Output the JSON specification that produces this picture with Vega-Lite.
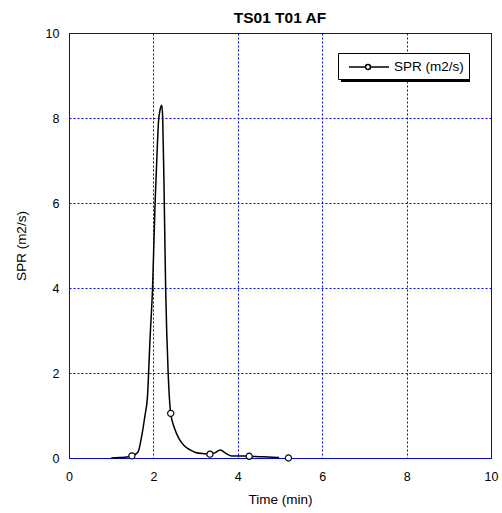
{
  "$schema": "https://vega.github.io/schema/vega-lite/v6.json",
  "width": 422,
  "height": 425,
  "autosize": {"type": "none"},
  "padding": {"left": 69, "top": 33, "right": 11, "bottom": 55},
  "background": "white",
  "title": {"text": "TS01 T01 AF", "fontSize": 15.5, "fontWeight": "bold", "font": "Liberation Sans", "color": "black", "anchor": "middle", "offset": 1},
  "config": {
    "view": {"stroke": "#0000ff", "strokeWidth": 1},
    "axis": {
      "domain": false,
      "ticks": false,
      "grid": true,
      "gridColor": "#0000ff",
      "gridDash": [2, 2],
      "gridWidth": 1,
      "gridOpacity": 1,
      "labelFlush": false,
      "labelFont": "Liberation Sans",
      "labelFontSize": 12.5,
      "labelColor": "black",
      "titleFont": "Liberation Sans",
      "titleFontSize": 13.5,
      "titleFontWeight": "normal",
      "titleColor": "black"
    },
    "legend": {
      "orient": "none",
      "labelFont": "Liberation Sans",
      "labelFontSize": 13.5,
      "labelColor": "black"
    }
  },
  "datasets": {
    "line": [
      {"t": 1.0, "v": 0.0}, {"t": 1.2, "v": 0.01}, {"t": 1.4, "v": 0.03}, {"t": 1.5, "v": 0.05},
      {"t": 1.58, "v": 0.09}, {"t": 1.64, "v": 0.15}, {"t": 1.72, "v": 0.5}, {"t": 1.8, "v": 1.0},
      {"t": 1.86, "v": 1.45}, {"t": 1.92, "v": 2.8}, {"t": 1.98, "v": 4.0}, {"t": 2.04, "v": 6.0},
      {"t": 2.08, "v": 7.0}, {"t": 2.12, "v": 7.9}, {"t": 2.16, "v": 8.2}, {"t": 2.2, "v": 8.3},
      {"t": 2.22, "v": 8.0}, {"t": 2.25, "v": 6.5}, {"t": 2.29, "v": 4.0}, {"t": 2.35, "v": 2.0},
      {"t": 2.41, "v": 1.05}, {"t": 2.5, "v": 0.7}, {"t": 2.61, "v": 0.45}, {"t": 2.72, "v": 0.3},
      {"t": 2.87, "v": 0.19}, {"t": 3.0, "v": 0.13}, {"t": 3.2, "v": 0.1}, {"t": 3.34, "v": 0.09},
      {"t": 3.45, "v": 0.12}, {"t": 3.59, "v": 0.19}, {"t": 3.7, "v": 0.12}, {"t": 3.85, "v": 0.05},
      {"t": 4.0, "v": 0.05}, {"t": 4.27, "v": 0.04}, {"t": 4.6, "v": 0.03}, {"t": 4.8, "v": 0.02},
      {"t": 4.98, "v": 0.01}
    ],
    "markers": [
      {"t": 1.49, "v": 0.05}, {"t": 2.41, "v": 1.05}, {"t": 3.34, "v": 0.09},
      {"t": 4.27, "v": 0.04}, {"t": 5.2, "v": 0.0}
    ]
  },
  "layer": [
    {
      "data": {"name": "line"},
      "transform": [{"calculate": "'SPR (m2/s)'", "as": "series"}, {"calculate": "'shadow'", "as": "series2"}],
      "mark": {"type": "line", "interpolate": "monotone", "strokeWidth": 1.5},
      "encoding": {
        "x": {"field": "t", "type": "quantitative", "scale": {"domain": [0, 10], "nice": false}, "axis": {"values": [0, 2, 4, 6, 8, 10], "title": "Time (min)", "labelPadding": 12, "titlePadding": 10}},
        "y": {"field": "v", "type": "quantitative", "scale": {"domain": [0, 10], "nice": false}, "axis": {"values": [0, 2, 4, 6, 8, 10], "title": "SPR (m2/s)", "labelPadding": 10, "titlePadding": 17}},
        "color": {"field": "series", "type": "nominal", "scale": {"range": ["black"]},
          "legend": {"title": null, "zindex": 2, "legendX": 269, "legendY": 20, "padding": 5, "fillColor": "white", "strokeColor": "black", "labelOffset": 33,
            "symbolType": "M-0.375,0H1.6875M2.3125,0H4.625M2.3125,0A0.3125,0.3125,0,1,1,1.6875,0A0.3125,0.3125,0,1,1,2.3125,0",
            "symbolSize": 256, "symbolStrokeWidth": 1.5, "symbolFillColor": "transparent", "symbolStrokeColor": "black"}},
        "opacity": {"field": "series2", "type": "ordinal", "scale": {"range": [1, 1]},
          "legend": {"title": null, "zindex": 1, "legendX": 272, "legendY": 23, "padding": 0, "fillColor": "transparent", "strokeColor": "transparent",
            "labelExpr": "''", "labelOffset": 0,
            "symbolType": "M-1,-1H15.125V2.25H-1Z",
            "symbolSize": 256, "symbolStrokeWidth": 0, "symbolFillColor": "black", "symbolStrokeColor": "transparent"}}
      }
    },
    {
      "data": {"name": "markers"},
      "transform": [{"calculate": "'SPR (m2/s)'", "as": "series"}],
      "mark": {"type": "point", "shape": "circle", "size": 38, "filled": false, "fill": "white", "fillOpacity": 1, "strokeWidth": 1.2},
      "encoding": {
        "x": {"field": "t", "type": "quantitative"},
        "y": {"field": "v", "type": "quantitative"},
        "stroke": {"field": "series", "type": "nominal", "scale": {"range": ["black"]}, "legend": null}
      }
    }
  ]
}
